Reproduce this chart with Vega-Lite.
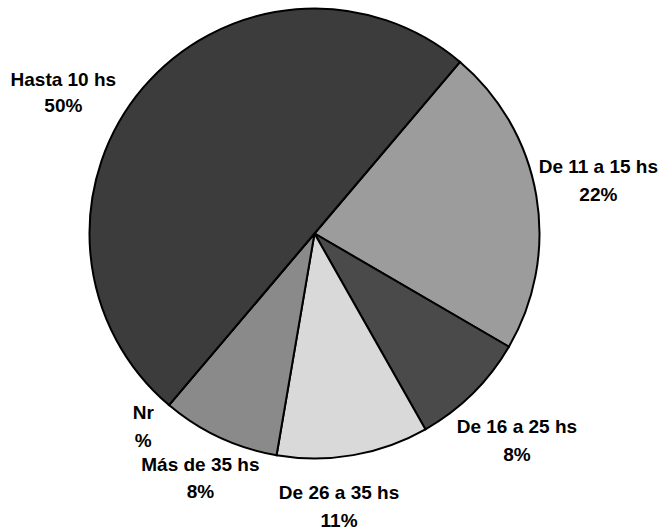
{
  "$schema": "https://vega.github.io/schema/vega-lite/v6.json",
  "width": 629,
  "height": 467,
  "autosize": "none",
  "padding": {"left": 0, "top": 0, "right": 43, "bottom": 64},
  "background": "white",
  "config": {"view": {"stroke": null}},
  "data": {
    "values": [
      {"category": "De 11 a 15 hs", "value": 22.2, "label": "De 11 a 15 hs\n22%", "ord": 1},
      {"category": "De 16 a 25 hs", "value": 8.4, "label": "De 16 a 25 hs\n8%", "ord": 2},
      {"category": "De 26 a 35 hs", "value": 10.9, "label": "De 26 a 35 hs\n11%", "ord": 3},
      {"category": "Más de 35 hs", "value": 8.5, "label": "Más de 35 hs\n8%", "ord": 4},
      {"category": "Nr", "value": 0, "label": "Nr\n%", "ord": 5},
      {"category": "Hasta 10 hs", "value": 50.0, "label": "Hasta 10 hs\n50%", "ord": 6}
    ]
  },
  "encoding": {
    "theta": {"field": "value", "type": "quantitative", "stack": true, "scale": {"range": [0.7034, 6.9866]}},
    "order": {"field": "ord", "type": "quantitative"}
  },
  "layer": [
    {
      "mark": {"type": "arc", "outerRadius": 225, "stroke": "black", "strokeWidth": 2},
      "encoding": {
        "color": {
          "field": "category",
          "type": "nominal",
          "legend": null,
          "scale": {
            "domain": ["De 11 a 15 hs", "De 16 a 25 hs", "De 26 a 35 hs", "Más de 35 hs", "Nr", "Hasta 10 hs"],
            "range": ["#9c9c9c", "#4a4a4a", "#d9d9d9", "#8a8a8a", "#ffffff", "#3c3c3c"]
          }
        }
      }
    },
    {
      "mark": {"type": "text", "radius": 288, "dy": -18, "font": "Liberation Sans", "fontWeight": "bold", "fontSize": 19, "lineBreak": "\n", "lineHeight": 28, "align": "center", "baseline": "middle"},
      "encoding": {"text": {"condition": {"test": "datum.category === 'De 11 a 15 hs'", "field": "label"}, "value": ""}}
    },
    {
      "mark": {"type": "text", "radius": 288, "dy": -11, "font": "Liberation Sans", "fontWeight": "bold", "fontSize": 19, "lineBreak": "\n", "lineHeight": 28, "align": "center", "baseline": "middle"},
      "encoding": {"text": {"condition": {"test": "datum.category === 'De 16 a 25 hs'", "field": "label"}, "value": ""}}
    },
    {
      "mark": {"type": "text", "radius": 276, "dx": -23, "dy": -12, "font": "Liberation Sans", "fontWeight": "bold", "fontSize": 19, "lineBreak": "\n", "lineHeight": 28, "align": "center", "baseline": "middle"},
      "encoding": {"text": {"condition": {"test": "datum.category === 'De 26 a 35 hs'", "field": "label"}, "value": ""}}
    },
    {
      "mark": {"type": "text", "radius": 270, "dy": -13, "font": "Liberation Sans", "fontWeight": "bold", "fontSize": 19, "lineBreak": "\n", "lineHeight": 27, "align": "center", "baseline": "middle"},
      "encoding": {"text": {"condition": {"test": "datum.category === 'Más de 35 hs'", "field": "label"}, "value": ""}}
    },
    {
      "mark": {"type": "text", "radius": 257, "dx": -5, "dy": -16, "font": "Liberation Sans", "fontWeight": "bold", "fontSize": 19, "lineBreak": "\n", "lineHeight": 28, "align": "center", "baseline": "middle"},
      "encoding": {"text": {"condition": {"test": "datum.category === 'Nr'", "field": "label"}, "value": ""}}
    },
    {
      "mark": {"type": "text", "radius": 290, "dx": -30, "dy": 34, "font": "Liberation Sans", "fontWeight": "bold", "fontSize": 19, "lineBreak": "\n", "lineHeight": 26, "align": "center", "baseline": "middle"},
      "encoding": {"text": {"condition": {"test": "datum.category === 'Hasta 10 hs'", "field": "label"}, "value": ""}}
    }
  ]
}
